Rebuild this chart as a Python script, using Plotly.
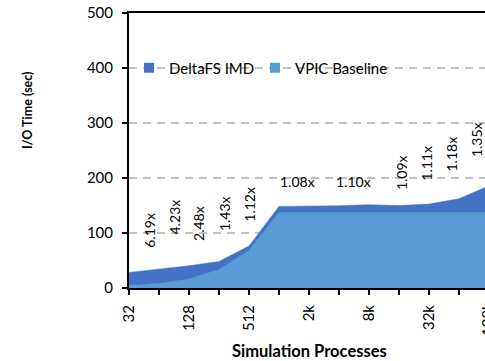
import plotly.graph_objects as go

# ---- data ----
categories = ["32", "64", "128", "256", "512", "1k", "2k", "4k", "8k", "16k", "32k", "64k", "128k"]
tick_labels = ["32", "", "128", "", "512", "", "2k", "", "8k", "", "32k", "", "128k"]
vpic_baseline = [4.6, 8.2, 16.3, 33.8, 68.0, 137.5, 137.5, 137.5, 137.5, 137.5, 137.5, 137.5, 137.5]
deltafs_imd = [28.4, 34.6, 40.5, 48.4, 76.2, 148.4, 148.5, 149.6, 151.3, 149.8, 152.6, 162.3, 185.6]
ratio_labels = ["6.19x", "4.23x", "2.48x", "1.43x", "1.12x", "1.08x", "1.10x", "1.09x", "1.11x", "1.18x", "1.35x"]
y_ticks = [0, 100, 200, 300, 400, 500]

# ---- layout / style ----
W, H = 485, 361
ML, MT, MB = 129, 13, 73
PW, PH = W - ML, H - MT - MB
DARK = "#4472C4"
LIGHT = "#5B9BD5"
FONT = "Lato"
xpos = list(range(len(categories)))
x_range = [0, 11.87]

# label positions (category-index, y) and rotation
label_pos = [(0.70, 106, -90), (1.53, 130, -90), (2.31, 117, -90), (3.18, 135, -90),
             (4.03, 153, -90), (5.62, 193, 0), (7.50, 193, 0), (9.09, 210, -90),
             (9.92, 227, -90), (10.76, 244, -90), (11.59, 270, -90)]

fig = go.Figure()
fig.add_trace(go.Scatter(x=xpos, y=deltafs_imd, mode="lines", fill="tozeroy",
                         line=dict(color=DARK, width=0.5), fillcolor=DARK,
                         showlegend=False, hoverinfo="skip"))
fig.add_trace(go.Scatter(x=xpos, y=vpic_baseline, mode="lines", fill="tozeroy",
                         line=dict(color=LIGHT, width=0.5), fillcolor=LIGHT,
                         showlegend=False, hoverinfo="skip"))
# legend entries
fig.add_trace(go.Scatter(x=[None], y=[None], mode="markers", name="DeltaFS IMD",
                         marker=dict(symbol="square", size=10, color=DARK), legend="legend"))
fig.add_trace(go.Scatter(x=[None], y=[None], mode="markers", name="VPIC Baseline",
                         marker=dict(symbol="square", size=10, color=LIGHT), legend="legend2"))

annotations = []
for txt, (lx, ly, ang) in zip(ratio_labels, label_pos):
    annotations.append(dict(x=lx, y=ly, xref="x", yref="y", text=txt, showarrow=False,
                            xanchor="center", yanchor="middle",
                            textangle=ang, font=dict(family=FONT, size=14, color="black")))
annotations.append(dict(x=(309 - ML) / PW, y=(288 - 351) / PH, xref="paper", yref="paper",
                        xanchor="center", yanchor="middle",
                        text="<b>Simulation Processes</b>", showarrow=False,
                        font=dict(family=FONT, size=16.5, color="black")))
annotations.append(dict(x=(27 - ML) / PW, y=(288 - 110) / PH, xref="paper", yref="paper",
                        xanchor="center", yanchor="middle",
                        text="<b>I/O Time (sec)</b>", showarrow=False, textangle=-90,
                        font=dict(family=FONT, size=12.5, color="black")))
# partially visible last tick label at the cropped right edge
annotations.append(dict(x=(487 - ML) / PW, y=0, xref="paper", yref="paper",
                        yshift=-12, yanchor="top", xanchor="center", text=tick_labels[-1],
                        showarrow=False, textangle=-90,
                        font=dict(family=FONT, size=15, color="black")))

legend_style = dict(orientation="h", y=(288 - 68) / PH, xanchor="left", yanchor="middle",
                    bgcolor="rgba(0,0,0,0)", font=dict(family=FONT, size=15, color="black"),
                    itemwidth=30)

fig.update_layout(
    width=W, height=H, autosize=False,
    margin=dict(l=ML, r=0, t=MT, b=MB, pad=0),
    paper_bgcolor="white", plot_bgcolor="white",
    font=dict(family=FONT, size=15, color="black"),
    showlegend=True,
    legend=dict(x=0.0, **legend_style),
    legend2=dict(x=(255 - ML) / PW, **legend_style),
    xaxis=dict(range=x_range, tickmode="array", tickvals=xpos, ticktext=tick_labels,
               tickangle=-90, ticks="outside", ticklen=5, tickwidth=2, tickcolor="black",
               showline=True, linewidth=2, linecolor="black", mirror=True,
               showgrid=False, zeroline=False, ticklabelstandoff=4,
               tickfont=dict(family=FONT, size=15, color="black")),
    xaxis2=dict(range=x_range, overlaying="x", anchor="y", side="bottom", tickmode="array",
                tickvals=xpos, ticks="inside", ticklen=5, tickwidth=2, tickcolor="black",
                showticklabels=False, showline=False, showgrid=False, zeroline=False),
    yaxis=dict(range=[0, 500], tickmode="array", tickvals=y_ticks, ticks="outside",
               ticklen=5, tickwidth=2, tickcolor="black",
               showline=True, linewidth=2, linecolor="black", mirror=False,
               showgrid=True, gridcolor="#BFBFBF", gridwidth=1.5, griddash="8px,6px",
               zeroline=False, ticklabelstandoff=6,
               tickfont=dict(family=FONT, size=15, color="black")),
    yaxis2=dict(range=[0, 500], overlaying="y", anchor="x", side="left", tickmode="array",
                tickvals=y_ticks, ticks="inside", ticklen=4, tickwidth=2, tickcolor="black",
                showticklabels=False, showline=False, showgrid=False, zeroline=False),
    annotations=annotations,
)

fig.write_html("out.html")
